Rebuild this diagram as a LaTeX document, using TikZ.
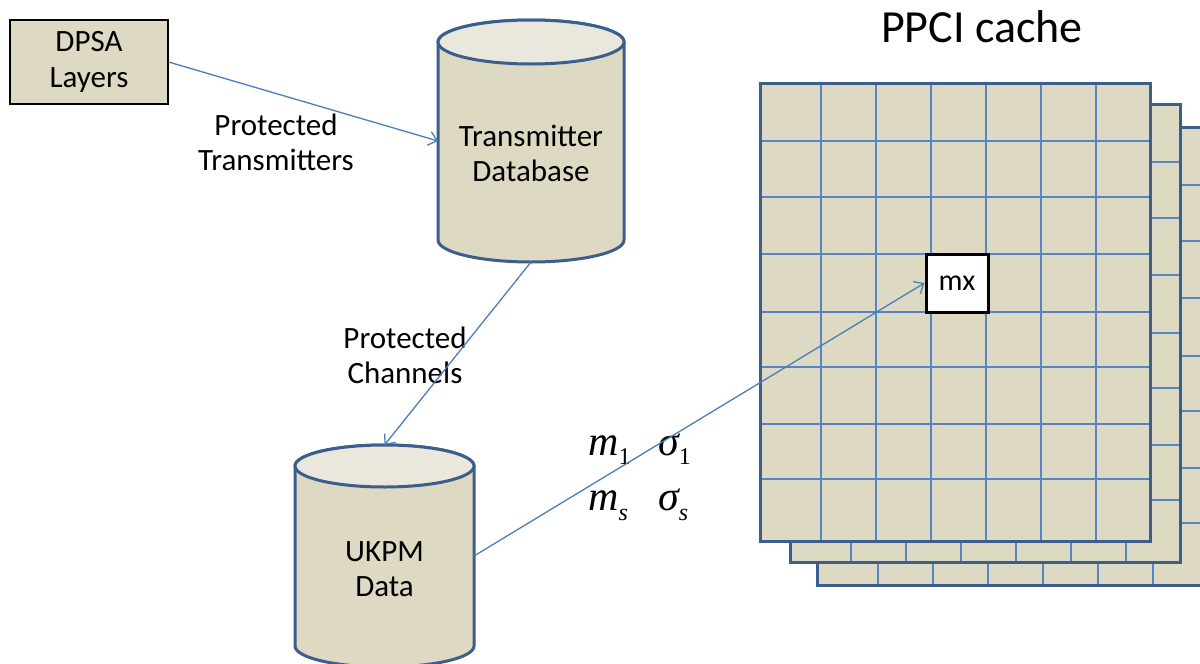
\documentclass[tikz,border=0pt]{standalone}
\usepackage{fontspec}
\setmainfont{Carlito}
\newfontfamily\eqfont{Liberation Serif}
\usetikzlibrary{arrows.meta, positioning}
\definecolor{drumtan}{HTML}{DDD9C3}
\definecolor{drumlid}{HTML}{EAE7DC}
\definecolor{edgeblue}{HTML}{3B5E8C}
\definecolor{gridblue}{HTML}{5486C4}
\definecolor{flowblue}{HTML}{4A7EBB}
\tikzstyle{layerbox} = [
  rectangle, draw=black, line width=1.2pt, fill=drumtan,
  minimum width=158pt, minimum height=84pt, align=center,
  font=\fontsize{31}{36}\selectfont
]
\tikzstyle{drumslot} = [rectangle, inner sep=0pt, outer sep=0pt]
\tikzstyle{drumbody} = [fill=drumtan, draw=edgeblue, line width=3pt]
\tikzstyle{drumtop} = [fill=drumlid, draw=edgeblue, line width=3pt]
\tikzstyle{caption} = [align=center, font=\fontsize{31}{35}\selectfont]
\tikzstyle{eqlabel} = [anchor=base west, inner sep=0pt, font=\fontsize{42}{42}\eqfont\itshape]
\tikzstyle{cell} = [
  rectangle, draw=black, line width=3pt, fill=white,
  minimum width=62pt, minimum height=58pt, inner sep=0pt,
  font=\fontsize{30}{34}\selectfont
]
\tikzstyle{sheet} = [fill=drumtan]
\tikzstyle{sheetedge} = [draw=edgeblue, line width=3pt]
\tikzstyle{gridline} = [gridblue, line width=1.4pt]
\tikzstyle{arrow} = [-{Straight Barb[length=8pt, width=14pt]}, flowblue, line width=1.3pt]
\newcommand{\drum}[3]{% node, half width, lid radius
  \filldraw[drumbody] ([yshift=-#3]#1.north west) -- ([yshift=#3]#1.south west)
    arc[start angle=180, end angle=360, x radius=#2, y radius=#3]
    -- ([yshift=-#3]#1.north east)
    arc[start angle=0, end angle=180, x radius=#2, y radius=#3] -- cycle;
  \filldraw[drumtop] ([yshift=-#3]#1.north) ellipse [x radius=#2, y radius=#3];
}
\newcommand{\sub}[2]{\raisebox{-#1}{\fontsize{24}{24}\selectfont #2}}
\begin{document}
\begin{tikzpicture}[x=1pt, y=-1pt]
  \useasboundingbox (0,0) rectangle (1200,664);

  % PPCI cache sheets
  \foreach \dx/\dy in {57/44, 30/21, 0/0} {
    \begin{scope}[shift={(\dx,\dy)}]
      \fill[sheet] (760,83) rectangle (1150,541);
      \foreach \gx in {821,876,931,986,1041,1096}
        \draw[gridline] (\gx,83) -- (\gx,541);
      \foreach \gy in {141,197,254,312,367,424,479}
        \draw[gridline] (760,\gy) -- (1150,\gy);
      \draw[sheetedge] (760,83) rectangle (1150,541);
    \end{scope}
  }
  \node[font=\fontsize{46}{50}\selectfont, anchor=base] (title) at (982,42) {PPCI cache};
  \node[cell] (mx) at (957,283) {mx};

  % Objects
  \node[layerbox] (dpsa) at (89,62) {DPSA\\Layers};
  \node[drumslot, minimum width=186pt, minimum height=242pt] (txdb) at (531,141) {};
  \node[drumslot, minimum width=179pt, minimum height=222pt] (ukpm) at (384.5,556) {};
  \drum{txdb}{93pt}{22pt}
  \drum{ukpm}{89.5pt}{21pt}
  \node[caption] (txdbtext) at ([yshift=-12pt]txdb.center) {Transmitter\\Database};
  \node[caption] (ukpmtext) at ([yshift=-13pt]ukpm.center) {UKPM\\Data};

  % Labels
  \node[caption] (prottx) at (276,142) {Protected\\Transmitters};
  \node[caption] (protch) at (405,355) {Protected\\Channels};
  \node[eqlabel] (mone) at (588,455) {m\sub{9pt}{\upshape 1}};
  \node[eqlabel] (sone) at (658,455) {σ\sub{9pt}{\upshape 1}};
  \node[eqlabel] (ms) at (588,510) {m\sub{10pt}{s}};
  \node[eqlabel] (ss) at (658,510) {σ\sub{10pt}{s}};

  % Flows
  \draw[arrow] (dpsa.east) -- (txdb.west);
  \draw[arrow] (txdb.south) -- (ukpm.north);
  \draw[arrow] (ukpm.east) -- (mx.west);

\end{tikzpicture}
\end{document}
